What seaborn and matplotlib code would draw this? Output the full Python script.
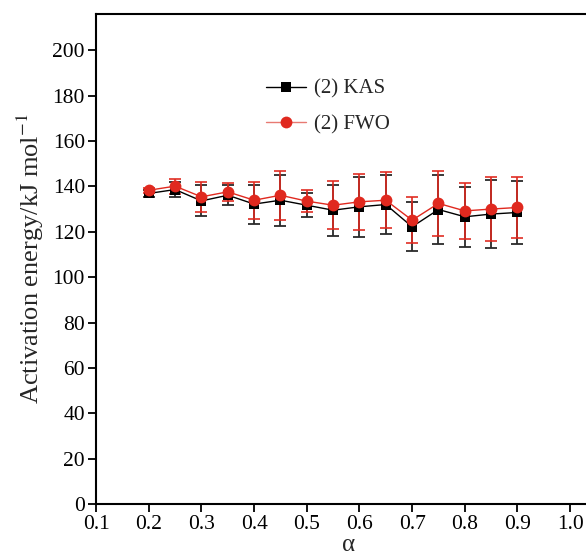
import numpy as np
import pandas as pd
import matplotlib
matplotlib.use("Agg")
import matplotlib.pyplot as plt
import seaborn as sns

alpha = [0.2, 0.25, 0.3, 0.35, 0.4, 0.45, 0.5, 0.55, 0.6, 0.65, 0.7, 0.75, 0.8, 0.85, 0.9]
kas = [136.9, 138.6, 133.6, 136.1, 132.2, 133.9, 131.7, 129.5, 131.0, 132.0, 122.2, 129.8, 126.6, 127.8, 128.5]
kas_err = [1.5, 3.4, 6.8, 4.4, 8.6, 11.3, 5.2, 11.2, 13.1, 12.9, 10.7, 15.0, 13.2, 14.9, 14.0]
fwo = [138.3, 140.1, 135.4, 137.6, 133.9, 136.1, 133.5, 131.7, 133.2, 133.9, 125.1, 132.5, 129.2, 130.0, 130.7]
fwo_err = [1.2, 3.3, 6.6, 3.9, 8.1, 10.7, 4.8, 10.5, 12.3, 12.4, 10.2, 14.3, 12.3, 14.1, 13.5]
x_ticks = [0.1, 0.2, 0.3, 0.4, 0.5, 0.6, 0.7, 0.8, 0.9, 1.0]
y_ticks = [0, 20, 40, 60, 80, 100, 120, 140, 160, 180, 200]

sns.set_style("ticks")
plt.rcParams['font.family'] = ['Liberation Serif', 'DejaVu Serif']
plt.rcParams['mathtext.fontset'] = 'stix'

df = pd.DataFrame({
    "alpha": alpha * 2,
    "E": kas + fwo,
    "method": ["(2) KAS"] * len(alpha) + ["(2) FWO"] * len(alpha),
})

fig = plt.figure(figsize=(5.86, 5.59), dpi=100)
ax = fig.add_axes([0.164, 0.0984, 0.86, 0.8766])
# x scale: 0.1 per 52.67 px
xmax = 0.1 + (0.86 * 586) / 526.7

red = "#e0291f"
ax.errorbar(alpha, kas, yerr=kas_err, fmt="none", ecolor="#2a2a2a", elinewidth=1.3,
            capsize=4, capthick=1.3, zorder=2)
ax.errorbar(alpha, fwo, yerr=fwo_err, fmt="none", ecolor=red, elinewidth=1.3,
            capsize=4, capthick=1.3, zorder=3, alpha=0.9)

sns.lineplot(data=df, x="alpha", y="E", hue="method", style="method",
             palette={"(2) KAS": "black", "(2) FWO": red},
             markers={"(2) KAS": "s", "(2) FWO": "o"}, dashes=False,
             markersize=6.5, linewidth=1.0, markeredgewidth=0, ax=ax, zorder=4)
for ln in ax.lines:
    if ln.get_marker() == "o":
        ln.set_markersize(8.5)
        ln.set_zorder(5)

ax.set_xlim(0.1, xmax)
ax.set_ylim(0, 216)
ax.set_xticks(x_ticks)
ax.set_xticklabels([f"{v:.1f}" for v in x_ticks])
ax.set_yticks(y_ticks)
ax.tick_params(axis="both", labelsize=15.5, direction="out", length=6, width=1.3, pad=2,
               color="black", labelcolor="black")
for s in ["left", "bottom", "top"]:
    ax.spines[s].set_linewidth(1.5)
    ax.spines[s].set_color("black")
ax.spines["right"].set_visible(False)

ax.set_xlabel("α", fontsize=18, labelpad=0)
ax.set_ylabel("Activation energy/kJ mol$^{-1}$", fontsize=19, labelpad=5)

leg = ax.legend(loc="upper left", bbox_to_anchor=(0.30, 0.905), frameon=False,
                fontsize=15, handlelength=1.9, labelspacing=0.75, handletextpad=0.4)
for h in leg.legend_handles:
    h.set_linewidth(1.0)
    if h.get_marker() == "o":
        h.set_color("#e87a72")
        h.set_markerfacecolor(red)

fig.savefig("out.png", dpi=100)
